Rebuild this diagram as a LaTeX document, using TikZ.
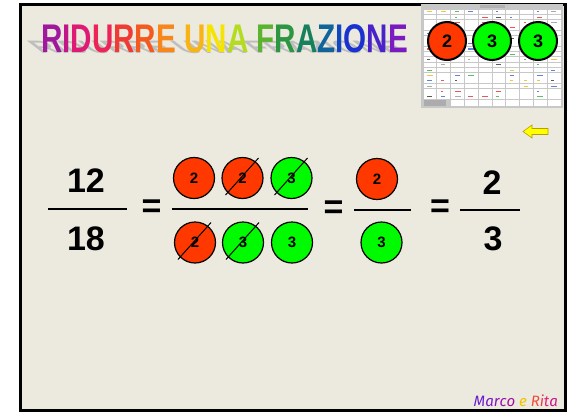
\documentclass[tikz,border=0pt]{standalone}
\usepackage{fontspec}
\setmainfont{Liberation Sans}
\newfontfamily\titlefont[FakeStretch=0.74]{Liberation Sans}
\newfontfamily\signfont{Fira Sans}
\usepackage{tikz}
\usetikzlibrary{
  calc
}
\definecolor{SlideBg}{RGB}{236, 233, 222}
\definecolor{FactorRed}{RGB}{255, 56, 0}
\definecolor{FactorGreen}{RGB}{0, 250, 0}
\definecolor{TitleShadow}{RGB}{190, 190, 190}
\definecolor{ThumbGray}{RGB}{200, 200, 200}
\definecolor{ArrowYellow}{RGB}{255, 255, 0}
\definecolor{ArrowEdge}{RGB}{180, 160, 0}
\definecolor{mark0}{RGB}{230, 90, 90}
\definecolor{mark1}{RGB}{90, 190, 100}
\definecolor{mark2}{RGB}{100, 130, 220}
\definecolor{mark3}{RGB}{240, 200, 60}
\definecolor{mark4}{RGB}{90, 90, 90}
\definecolor{mark5}{RGB}{170, 170, 170}
\tikzset{
    factor/.style={circle, draw=black, line width=1.2pt, minimum size=41pt, inner sep=0pt,
        font=\bfseries\fontsize{15}{15}\selectfont},
    due/.style={factor, fill=FactorRed},
    tre/.style={factor, fill=FactorGreen},
    thumbfactor/.style={factor, line width=2pt, minimum size=38pt, font=\bfseries\fontsize{18}{18}\selectfont},
    bignum/.style={inner sep=0pt, font=\bfseries\fontsize{34}{34}\selectfont},
    fracbar/.style={line width=2.2pt},
    strike/.style={line width=1pt}
}

\begin{document}
\begin{tikzpicture}[x=1pt, y=-1pt]
    \useasboundingbox (0,0) rectangle (575,413);
    % slide
    \draw[line width=3pt, fill=SlideBg] (20.5,4.5) rectangle (565.5,410.5);

    % title with its shadow
    \begin{scope}[shift={(41,53)}, xslant=-1.3, yscale=0.45]
        \node[transform shape, anchor=base west, inner sep=0pt, text=TitleShadow,
            font=\titlefont\bfseries\fontsize{40}{40}\selectfont] (titleshadow) at (0,0) {RIDURRE UNA FRAZIONE};
    \end{scope}
    \node[anchor=base west, inner sep=0pt, font=\titlefont\bfseries\fontsize{40}{40}\selectfont] (title) at (41,52) {%
        \textcolor[HTML]{A0189E}{R}\textcolor[HTML]{C0168A}{I}\textcolor[HTML]{DE1A74}{D}\textcolor[HTML]{EC2458}{U}%
        \textcolor[HTML]{F03A34}{R}\textcolor[HTML]{F45A20}{R}\textcolor[HTML]{F8861A}{E} %
        \textcolor[HTML]{F8B414}{U}\textcolor[HTML]{F6E400}{N}\textcolor[HTML]{B4DC1E}{A} %
        \textcolor[HTML]{5CB42E}{F}\textcolor[HTML]{2C9640}{R}\textcolor[HTML]{16805C}{A}\textcolor[HTML]{10649C}{Z}%
        \textcolor[HTML]{1048C0}{I}\textcolor[HTML]{1A32D0}{O}\textcolor[HTML]{4A22CA}{N}\textcolor[HTML]{7A1AC0}{E}};

    % thumbnail of the table
    \fill[ThumbGray] (421,4) rectangle (563,108);
    \fill[gray!60] (480,5) rectangle (505,7.5);
    \foreach \c in {0,...,9}{
        \foreach \r in {0,...,16}{
            \fill[white] ({423.5+\c*13.8},{9.5+\r*5.3}) rectangle ++(12.8,4.5);
        }
    }
    \pgfmathsetseed{11}
    \foreach \c in {0,...,9}{
        \foreach \r in {0,...,16}{
            \pgfmathrandominteger{\k}{0}{11}
            \pgfmathrandominteger{\w}{2}{6}
            \ifnum\k<6
                \fill[mark\k] ({427+\c*13.8},{11.3+\r*5.3}) rectangle ++(\w,1.1);
            \fi
        }
    }
    \fill[gray!65] (423.5,100) rectangle (446,106);
    \foreach \c in {2,...,9}{
        \fill[white] ({423.5+\c*13.8},100) rectangle ++(12.8,6);
    }
    \node[thumbfactor, fill=FactorRed] (tf1) at (447,41) {2};
    \node[thumbfactor, fill=FactorGreen] (tf2) at (492,41) {3};
    \node[thumbfactor, fill=FactorGreen] (tf3) at (538,41) {3};

    % back arrow
    \filldraw[fill=ArrowYellow, draw=ArrowEdge, line width=0.6pt]
        (523,131.5) -- (532,125) -- (532,128.5) -- (548,128.5) -- (548,134.5)
        -- (532,134.5) -- (532,138) -- cycle;

    % 12/18
    \node[bignum] (num) at (86,181) {12};
    \node[bignum] (den) at (86,239) {18};
    \draw[fracbar] (48,209) -- (127,209);
    \node[bignum] (eq1) at (151.5,209) {=};

    % factorisation
    \node[due] (t1) at (194,178) {2};
    \node[due] (t2) at (242.5,178) {2};
    \node[tre] (t3) at (291.5,178) {3};
    \node[due] (b1) at (195,242.5) {2};
    \node[tre] (b2) at (243,242.5) {3};
    \node[tre] (b3) at (292,242.5) {3};
    \draw[fracbar] (172,209) -- (308,209);
    \foreach \c in {t2,t3,b1,b2}
        \draw[strike] ($(\c)+(-17,17)$) -- ($(\c)+(16,-20)$);
    \node[bignum] (eq2) at (333.5,210) {=};

    % what is left
    \node[due] (r1) at (377,179) {2};
    \node[tre] (r2) at (381.5,242.5) {3};
    \draw[fracbar] (354,210) -- (411,210);
    \node[bignum] (eq3) at (440,209) {=};

    % 2/3
    \node[bignum] (num2) at (492,183) {2};
    \node[bignum] (den2) at (493,239) {3};
    \draw[fracbar] (460,210) -- (520,210);

    % signature
    \node[anchor=base east, inner sep=0pt, font=\signfont\itshape\fontsize{15}{15}\selectfont] (sign) at (558,406) {%
        \textcolor[HTML]{6A1CD0}{M}\textcolor[HTML]{7A16C8}{a}\textcolor[HTML]{8A12BC}{r}\textcolor[HTML]{9810AE}{c}\textcolor[HTML]{A010A0}{o}
        \textcolor[HTML]{F2C200}{e}
        \textcolor[HTML]{F24A3A}{R}\textcolor[HTML]{EE3456}{i}\textcolor[HTML]{E02474}{t}\textcolor[HTML]{CC1494}{a}};
\end{tikzpicture}
\end{document}
